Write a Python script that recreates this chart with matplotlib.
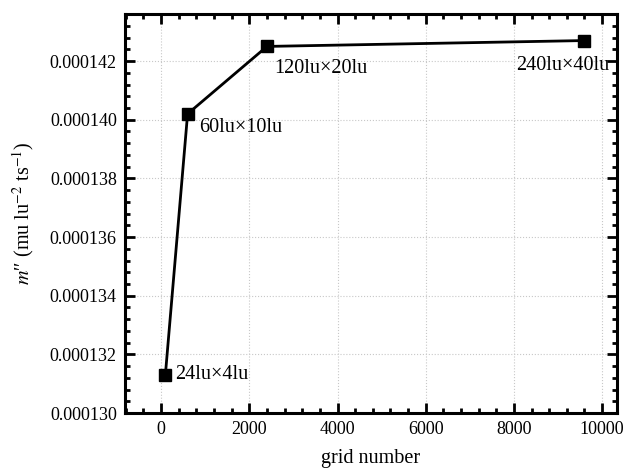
import matplotlib.pyplot as plt
from matplotlib.ticker import AutoMinorLocator, MultipleLocator, FormatStrFormatter

plt.rcParams['font.family'] = ['Liberation Serif', 'DejaVu Serif']
plt.rcParams['mathtext.fontset'] = 'stix'

# grid sizes and the resulting mass flux
grid_labels = ["24lu\u00d74lu", "60lu\u00d710lu", "120lu\u00d720lu", "240lu\u00d740lu"]
grid_number = [96, 600, 2400, 9600]
m_flux = [0.0001313, 0.0001402, 0.0001425, 0.0001427]

# label offsets (points) relative to each marker
offsets = [(7, 0), (8, -10), (5, -16), (-49, -18)]

fig = plt.figure(figsize=(6.26, 4.72), dpi=100)
ax = fig.add_axes([0.2, 0.125, 0.785, 0.845])

ax.plot(grid_number, m_flux, color="black", linewidth=2, marker="s", markersize=8.5)

for lab, x, y, off in zip(grid_labels, grid_number, m_flux, offsets):
    ax.annotate(lab, (x, y), xytext=off, textcoords="offset points",
                ha="left", va="center", fontsize=14.5)

ax.set_xlim(-815, 10330)
ax.set_ylim(0.000130, 0.0001436)
ax.xaxis.set_major_locator(MultipleLocator(2000))
ax.yaxis.set_major_locator(MultipleLocator(0.000002))
ax.yaxis.set_major_formatter(FormatStrFormatter("%.6f"))
ax.xaxis.set_minor_locator(AutoMinorLocator(5))
ax.yaxis.set_minor_locator(AutoMinorLocator(5))

ax.tick_params(which="both", direction="in", top=True, right=True, width=2, labelsize=13)
ax.tick_params(which="major", length=7, pad=6)
ax.tick_params(which="minor", length=3.5)
for s in ax.spines.values():
    s.set_linewidth(2.2)

ax.grid(True, which="major", linestyle=":", color="#c8c8c8", linewidth=0.8)

ax.set_xlabel("grid number", fontsize=14.5, labelpad=8)
ax.set_ylabel("$m$\u2032\u2032 (mu lu$^{-2}$ ts$^{-1}$)", fontsize=14.5, labelpad=10)

plt.savefig("out.png")
